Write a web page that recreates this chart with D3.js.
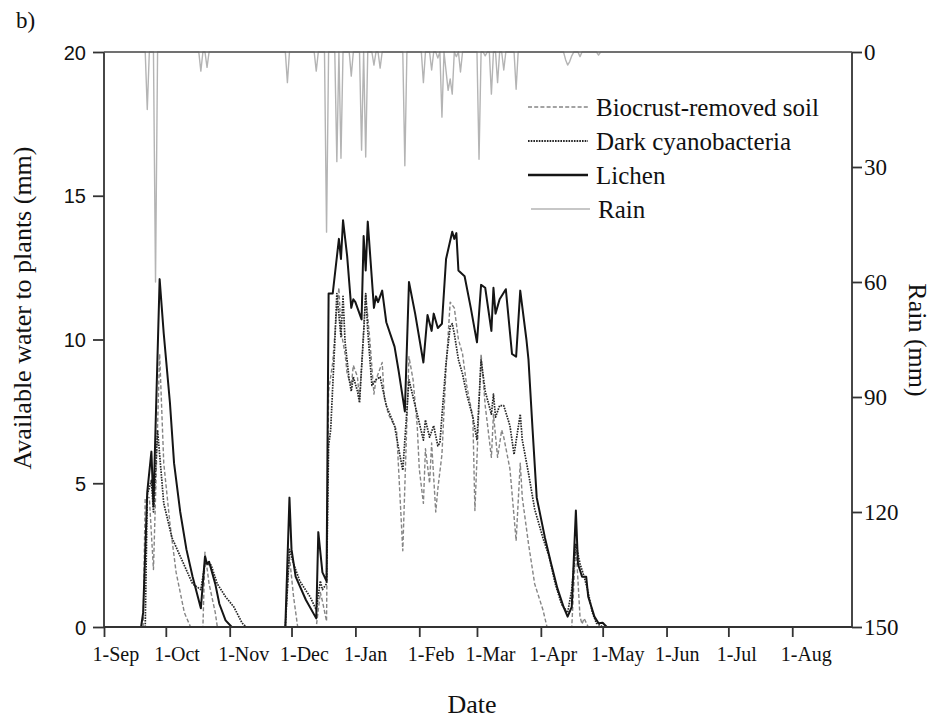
<!DOCTYPE html>
<html>
<head>
<meta charset="utf-8">
<script src="https://cdn.jsdelivr.net/npm/d3@7/dist/d3.min.js"></script>
<style>
  body { margin: 0; background: #fff; }
  svg { display: block; }
</style>
</head>
<body>
<svg id="chart" width="935" height="719"></svg>
<script>
// Hydrological year, 1 Sep 2013 – 30 Aug 2014. Dates are written "MM-DD".
const seasonStart = "09-01";
const seasonEnd = "08-30";

const monthTicks = ["09-01", "10-01", "11-01", "12-01", "01-01", "02-01",
                    "03-01", "04-01", "05-01", "06-01", "07-01", "08-01"];
const monthLabels = ["1-Sep", "1-Oct", "1-Nov", "1-Dec", "1-Jan", "1-Feb",
                     "1-Mar", "1-Apr", "1-May", "1-Jun", "1-Jul", "1-Aug"];
const waterTicks = [0, 5, 10, 15, 20];
const rainTicks = [0, 30, 60, 90, 120, 150];

// Daily rainfall (mm); days not listed had no rain
const rainDates = ["09-22", "09-26", "10-18", "10-21", "11-29", "12-13", "12-18", "12-23",
                   "12-25", "12-30", "01-04", "01-06", "01-10", "01-13", "01-25", "02-03",
                   "02-07", "02-10", "02-12", "02-14", "02-15", "02-16", "02-17", "02-19",
                   "02-21", "03-02", "03-05", "03-08", "03-11", "03-14", "03-20", "04-13",
                   "04-14", "04-15", "04-16", "04-20", "04-29"];
const rainMm = [15, 60, 5, 4, 8, 5, 47, 28.6,
                27.7, 6.3, 25.6, 27.4, 3.4, 4.2, 29.7, 8,
                4.7, 1.6, 17, 5, 10, 7, 11, 1.2,
                5.2, 28, 1, 11, 8, 4.7, 9.7, 2,
                3.4, 2.5, 1, 1.2, 0.8];

// Available water to plants (mm) under each surface type
const biocrustRemoved = [
  ["09-20", 0], ["09-21", 4.5], ["09-23", 4.5], ["09-25", 2.0], ["09-28", 9.5], ["09-30", 5.7],
  ["10-03", 3.6], ["10-06", 1.9], ["10-10", 0.5], ["10-13", 0], ["10-19", 0], ["10-20", 2.6],
  ["10-22", 1.5], ["10-25", 0.5], ["10-26", 0], ["11-28", 0], ["11-30", 2.45], ["12-02", 1.05],
  ["12-04", 0], ["12-13", 0], ["12-15", 1.2], ["12-16", 0.9], ["12-18", 0.2], ["12-19", 8.2],
  ["12-21", 9.2], ["12-23", 11.1], ["12-24", 11.8], ["12-25", 10.3], ["12-27", 9.5], ["12-28", 8.8],
  ["12-30", 8.4], ["12-31", 9.1], ["01-02", 8.7], ["01-03", 7.9], ["01-04", 9.1], ["01-06", 11.6],
  ["01-08", 10.0], ["01-10", 8.1], ["01-11", 8.6], ["01-14", 9.2], ["01-15", 8.0], ["01-17", 7.4],
  ["01-21", 6.85], ["01-24", 2.65], ["01-27", 9.4], ["01-29", 8.6], ["01-31", 7.0], ["02-01", 5.5],
  ["02-03", 4.3], ["02-04", 6.2], ["02-06", 5.0], ["02-07", 6.4], ["02-09", 4.0], ["02-10", 4.8],
  ["02-12", 6.0], ["02-14", 9.0], ["02-16", 11.3], ["02-18", 11.1], ["02-20", 10.0], ["02-22", 9.5],
  ["02-24", 8.4], ["02-27", 7.3], ["02-28", 4.05], ["03-03", 9.5], ["03-05", 7.7], ["03-08", 5.9],
  ["03-09", 7.4], ["03-11", 5.9], ["03-13", 6.85], ["03-14", 6.6], ["03-17", 5.5], ["03-20", 3.0],
  ["03-22", 5.7], ["03-23", 4.5], ["03-26", 2.9], ["03-29", 1.5], ["04-02", 0.6], ["04-04", 0],
  ["04-16", 0], ["04-18", 2.9], ["04-20", 0.36], ["04-21", 0.1], ["04-22", 0.3], ["04-24", 0]
];

const darkCyanobacteria = [
  ["09-21", 0], ["09-22", 4.6], ["09-24", 5.1], ["09-25", 4.0], ["09-27", 6.85], ["09-30", 4.3],
  ["10-04", 3.1], ["10-09", 2.3], ["10-14", 1.5], ["10-18", 1.3], ["10-20", 2.2], ["10-23", 2.15],
  ["10-26", 1.5], ["10-30", 1.05], ["11-03", 0.7], ["11-07", 0.14], ["11-09", 0], ["11-28", 0],
  ["11-30", 2.7], ["12-02", 2.2], ["12-05", 1.6], ["12-10", 1.05], ["12-13", 0.6], ["12-15", 1.6],
  ["12-16", 1.3], ["12-18", 1.5], ["12-19", 6.3], ["12-20", 6.85], ["12-22", 9.9], ["12-23", 11.6],
  ["12-25", 10.1], ["12-26", 11.5], ["12-27", 9.9], ["12-29", 8.6], ["12-30", 8.2], ["12-31", 8.7],
  ["01-02", 8.2], ["01-03", 7.8], ["01-05", 10.2], ["01-06", 11.6], ["01-07", 10.3], ["01-09", 8.4],
  ["01-11", 8.6], ["01-13", 8.7], ["01-16", 7.7], ["01-20", 7.0], ["01-22", 6.2], ["01-24", 5.45],
  ["01-27", 8.6], ["01-30", 7.7], ["02-03", 6.5], ["02-04", 7.2], ["02-06", 6.6], ["02-08", 7.0],
  ["02-10", 6.3], ["02-11", 6.4], ["02-14", 9.2], ["02-16", 10.45], ["02-17", 10.55], ["02-18", 10.2],
  ["02-20", 9.3], ["02-22", 8.8], ["02-24", 8.1], ["02-27", 7.3], ["03-01", 6.5], ["03-03", 9.3],
  ["03-05", 8.2], ["03-08", 7.4], ["03-09", 8.1], ["03-10", 7.3], ["03-12", 7.7], ["03-14", 7.7],
  ["03-17", 7.0], ["03-19", 6.0], ["03-22", 7.4], ["03-23", 6.5], ["03-26", 5.35], ["03-29", 4.1],
  ["04-02", 3.1], ["04-05", 2.45], ["04-08", 1.5], ["04-11", 0.8], ["04-14", 0.5], ["04-16", 1.3],
  ["04-18", 2.9], ["04-20", 2.2], ["04-22", 1.75], ["04-24", 1.2], ["04-26", 0.5], ["04-28", 0.13],
  ["05-01", 0]
];

const lichen = [
  ["09-19", 0], ["09-20", 0.5], ["09-22", 4.7], ["09-24", 6.1], ["09-25", 4.2], ["09-26", 6.9],
  ["09-28", 12.1], ["09-30", 10.2], ["10-03", 7.8], ["10-05", 5.7], ["10-08", 4.0], ["10-11", 2.7],
  ["10-14", 1.75], ["10-18", 0.65], ["10-20", 2.45], ["10-21", 2.2], ["10-22", 2.27], ["10-25", 1.5],
  ["10-27", 0.8], ["10-30", 0.23], ["11-02", 0], ["11-28", 0], ["11-30", 4.5], ["12-01", 2.7],
  ["12-03", 1.75], ["12-08", 0.94], ["12-13", 0.3], ["12-14", 3.3], ["12-16", 1.9], ["12-18", 1.6],
  ["12-19", 11.6], ["12-21", 11.6], ["12-24", 13.5], ["12-25", 12.8], ["12-26", 14.15], ["12-28", 12.9],
  ["12-30", 11.1], ["12-31", 11.4], ["01-01", 11.3], ["01-04", 10.7], ["01-05", 13.6], ["01-06", 12.4],
  ["01-07", 14.1], ["01-10", 11.1], ["01-11", 11.5], ["01-12", 11.3], ["01-14", 11.7], ["01-16", 10.6],
  ["01-20", 9.75], ["01-22", 8.9], ["01-25", 7.5], ["01-27", 12.0], ["01-30", 10.9], ["02-03", 9.2],
  ["02-05", 10.85], ["02-07", 10.3], ["02-08", 10.9], ["02-10", 10.4], ["02-12", 10.55], ["02-14", 12.8],
  ["02-17", 13.75], ["02-18", 13.5], ["02-19", 13.7], ["02-20", 12.4], ["02-23", 12.2], ["02-26", 11.1],
  ["03-01", 9.9], ["03-03", 11.9], ["03-05", 11.8], ["03-08", 10.3], ["03-09", 11.8], ["03-10", 10.9],
  ["03-12", 11.4], ["03-15", 11.75], ["03-18", 9.5], ["03-20", 9.4], ["03-22", 11.7], ["03-25", 10.0],
  ["03-26", 9.3], ["03-28", 6.85], ["03-30", 4.5], ["04-03", 3.1], ["04-06", 2.2], ["04-09", 1.35],
  ["04-12", 0.7], ["04-14", 0.36], ["04-16", 0.7], ["04-18", 4.05], ["04-19", 2.2], ["04-21", 1.75],
  ["04-23", 1.75], ["04-24", 1.05], ["04-27", 0.36], ["04-29", 0.13], ["05-01", 0.15], ["05-03", 0]
];

const legendLabels = ["Biocrust-removed soil", "Dark cyanobacteria", "Lichen", "Rain"];

// ---------------------------------------------------------------------------
const serif = "'Liberation Serif', 'Times New Roman', serif";
const sans = "'Liberation Sans', Arial, sans-serif";
const axisColor = "#333";

// Sep–Dec belong to 2013, Jan–Aug to 2014
const parseDay = s => {
  const [m, d] = s.split("-").map(Number);
  return new Date(m >= 9 ? 2013 : 2014, m - 1, d);
};

const svg = d3.select("#chart");
const plot = { left: 104, right: 852, top: 52, bottom: 627 };

const x = d3.scaleTime()
  .domain([parseDay(seasonStart), parseDay(seasonEnd)])
  .range([plot.left, plot.right]);
const yWater = d3.scaleLinear().domain([0, 20]).range([plot.bottom, plot.top]);
const yRain = d3.scaleLinear().domain([0, 150]).range([plot.top, plot.bottom]);

svg.append("clipPath").attr("id", "plot-clip")
  .append("rect")
  .attr("x", plot.left).attr("y", plot.top - 1)
  .attr("width", plot.right - plot.left).attr("height", plot.bottom - plot.top + 2);

// Rain hangs from the top edge on the inverted right-hand axis
const rainByDay = new Map(rainDates.map((d, i) => [+parseDay(d), rainMm[i]]));
const rainSeries = d3.timeDay.range(parseDay(seasonStart), d3.timeDay.offset(parseDay(seasonEnd), 1))
  .map(d => [d, rainByDay.get(+d) || 0]);

const seriesStyles = {
  "Biocrust-removed soil": { stroke: "#858585", width: 1.4, dash: "4,2.2" },
  "Dark cyanobacteria": { stroke: "#262626", width: 1.7, dash: "1.6,1.1" },
  "Lichen": { stroke: "#151515", width: 2.0, dash: null },
  "Rain": { stroke: "#b4b4b4", width: 1.4, dash: null }
};

const g = svg.append("g").attr("clip-path", "url(#plot-clip)");

g.append("path")
  .datum(rainSeries)
  .attr("fill", "none")
  .attr("stroke", seriesStyles["Rain"].stroke)
  .attr("stroke-width", seriesStyles["Rain"].width)
  .attr("stroke-linejoin", "round")
  .attr("d", d3.line().x(d => x(d[0])).y(d => yRain(d[1])));

const waterLine = d3.line()
  .x(d => x(parseDay(d[0])))
  .y(d => yWater(d[1]));

[["Biocrust-removed soil", biocrustRemoved],
 ["Dark cyanobacteria", darkCyanobacteria],
 ["Lichen", lichen]].forEach(([name, data]) => {
  const st = seriesStyles[name];
  g.append("path")
    .datum(data)
    .attr("fill", "none")
    .attr("stroke", st.stroke)
    .attr("stroke-width", st.width)
    .attr("stroke-dasharray", st.dash)
    .attr("stroke-linejoin", "round")
    .attr("d", waterLine);
});

// Axes
function styleAxis(sel) {
  sel.select(".domain").remove();
  sel.selectAll(".tick line").attr("stroke", axisColor).attr("stroke-width", 1.8);
  sel.selectAll(".tick text").attr("fill", "#111");
}

const bottomAxis = svg.append("g")
  .attr("transform", `translate(0,${plot.bottom})`)
  .call(d3.axisBottom(x)
    .tickValues(monthTicks.map(parseDay))
    .tickFormat((d, i) => monthLabels[i])
    .tickSize(10));
styleAxis(bottomAxis);
bottomAxis.selectAll(".tick text")
  .attr("font-family", serif).attr("font-size", 20)
  .attr("text-anchor", "start")
  .attr("x", -12).attr("y", 34).attr("dy", 0);

const leftAxis = svg.append("g")
  .attr("transform", `translate(${plot.left},0)`)
  .call(d3.axisLeft(yWater).tickValues(waterTicks).tickSize(11).tickPadding(7));
styleAxis(leftAxis);
leftAxis.selectAll(".tick text")
  .attr("font-family", sans).attr("font-size", 20).attr("dy", "0.36em");

const rightAxis = svg.append("g")
  .attr("transform", `translate(${plot.right},0)`)
  .call(d3.axisRight(yRain).tickValues(rainTicks).tickSize(10).tickPadding(2));
styleAxis(rightAxis);
rightAxis.selectAll(".tick text")
  .attr("font-family", serif).attr("font-size", 23).attr("dy", "0.34em");

// Axis frame lines
const frame = svg.append("g").attr("stroke", axisColor).attr("stroke-width", 1.8);
frame.append("line").attr("x1", plot.left).attr("x2", plot.left).attr("y1", plot.top).attr("y2", plot.bottom);
frame.append("line").attr("x1", plot.right).attr("x2", plot.right).attr("y1", plot.top).attr("y2", plot.bottom);
frame.append("line").attr("x1", plot.left).attr("x2", plot.right).attr("y1", plot.bottom).attr("y2", plot.bottom);
frame.append("line").attr("x1", plot.left).attr("x2", plot.right).attr("y1", plot.top).attr("y2", plot.top)
  .attr("stroke", "#555").attr("stroke-width", 1.6);

// Axis titles
svg.append("text")
  .attr("transform", "translate(31,308) rotate(-90)")
  .attr("text-anchor", "middle")
  .attr("font-family", serif).attr("font-size", 26).attr("fill", "#111")
  .text("Available water to plants (mm)");

svg.append("text")
  .attr("transform", "translate(909,340) rotate(90)")
  .attr("text-anchor", "middle")
  .attr("font-family", serif).attr("font-size", 26).attr("fill", "#111")
  .text("Rain (mm)");

svg.append("text")
  .attr("x", 472).attr("y", 713)
  .attr("text-anchor", "middle")
  .attr("font-family", serif).attr("font-size", 26).attr("fill", "#111")
  .text("Date");

svg.append("text")
  .attr("x", 16).attr("y", 28)
  .attr("font-family", serif).attr("font-size", 23).attr("fill", "#111")
  .text("b)");

// Legend
const legend = svg.append("g").attr("transform", "translate(528,107)");
legendLabels.forEach((name, i) => {
  const st = seriesStyles[name];
  const row = legend.append("g").attr("transform", `translate(0,${i * 34})`);
  row.append("line")
    .attr("x1", name === "Rain" ? 3 : 0).attr("x2", name === "Rain" ? 62 : 60)
    .attr("y1", 0).attr("y2", 0)
    .attr("stroke", st.stroke)
    .attr("stroke-width", name === "Lichen" ? 2.3 : st.width + 0.2)
    .attr("stroke-dasharray", st.dash);
  row.append("text")
    .attr("x", name === "Rain" ? 70 : 68).attr("y", 9)
    .attr("font-family", serif).attr("font-size", 25).attr("fill", "#111")
    .text(name);
});
</script>
</body>
</html>
